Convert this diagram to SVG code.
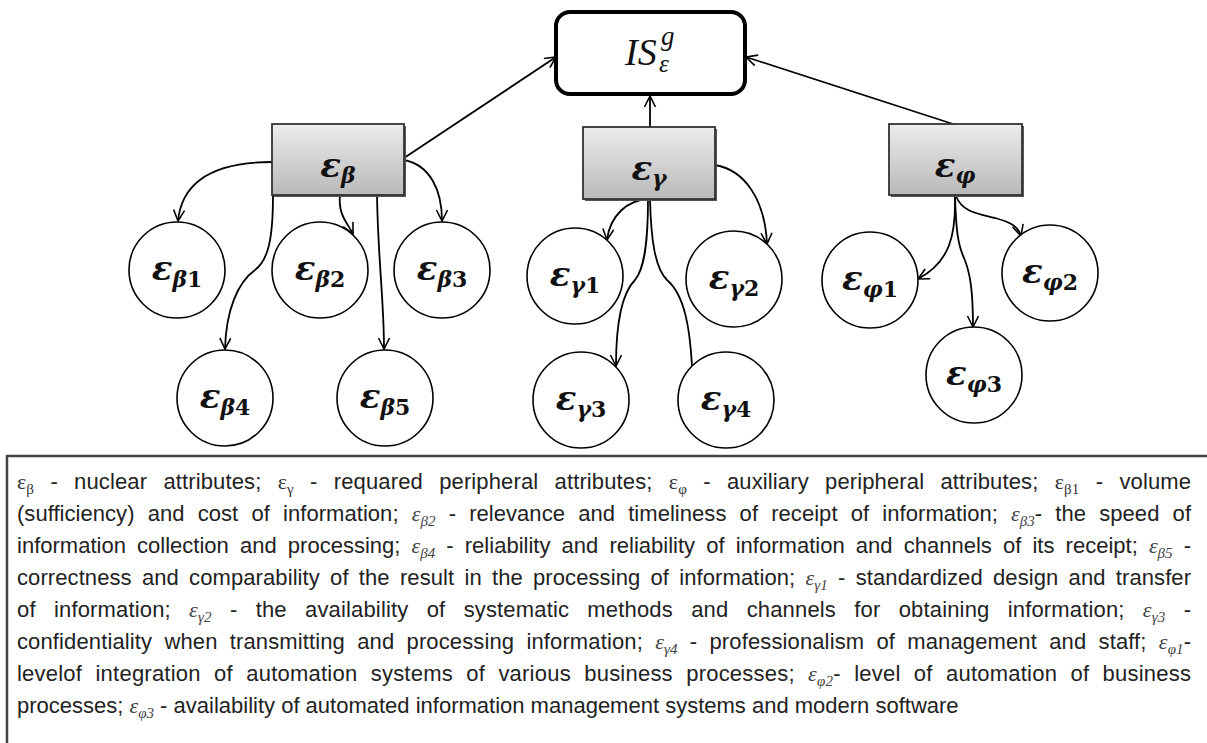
<svg xmlns="http://www.w3.org/2000/svg" width="1207" height="743" viewBox="0 0 1207 743">
<defs>
<linearGradient id="boxg" x1="0" y1="0" x2="0" y2="1">
<stop offset="0" stop-color="#ececec"/>
<stop offset="1" stop-color="#b9b9b9"/>
</linearGradient>
<marker id="arr" markerUnits="userSpaceOnUse" markerWidth="14" markerHeight="14" refX="12" refY="6" orient="auto">
<path d="M1,0.5 L12,6 L1,11.5" fill="none" stroke="#000" stroke-width="1.6"/>
</marker>
</defs>
<style>
.conn{fill:none;stroke:#000;stroke-width:1.8}
.circ{fill:#fff;stroke:#000;stroke-width:1.6}
.box{fill:url(#boxg);stroke:#333;stroke-width:1.8}
.shadow{fill:#555}
.lbl{font-family:"DejaVu Serif","Liberation Serif",serif;font-weight:bold;font-style:italic;font-size:34px;fill:#111}
.sub{font-size:22px}
.dg{font-style:normal}
.leg{font-family:"Liberation Sans",Arial,sans-serif;font-size:22px;fill:#222}
.ge{font-family:"Liberation Serif",serif;font-style:italic;fill:#444}
.ue{font-family:"Liberation Serif",serif;fill:#333}
.s{font-size:15px}
</style>
<rect x="7" y="456" width="1215" height="300" fill="#fff" stroke="#444" stroke-width="2.5"/>
<g id="connectors">
<path class="conn" marker-end="url(#arr)" d="M404,158 L556,57"/>
<path class="conn" marker-end="url(#arr)" d="M650,127 L650,96"/>
<path class="conn" marker-end="url(#arr)" d="M953,124 L746,57"/>
<path class="conn" marker-end="url(#arr)" d="M272,162 C215,162 182,180 178,221"/>
<path class="conn" marker-end="url(#arr)" d="M340,195 C338,215 347,222 353,234"/>
<path class="conn" marker-end="url(#arr)" d="M404,160 C430,165 442,190 442,221"/>
<path class="conn" marker-end="url(#arr)" d="M273,195 C273,240 268,260 255,270 C238,282 226,310 225,349"/>
<path class="conn" marker-end="url(#arr)" d="M377,195 C378,260 384,300 384,349"/>
<path class="conn" marker-end="url(#arr)" d="M648,199 C628,200 610,215 607,240"/>
<path class="conn" marker-end="url(#arr)" d="M715,165 C745,170 765,200 767,244"/>
<path class="conn" marker-end="url(#arr)" d="M648,199 C648,240 645,268 635,280 C620,295 616,330 616,366"/>
<path class="conn" d="M650,199 C651,240 655,268 667,280 C685,295 690,330 692,366"/>
<path class="conn" marker-end="url(#arr)" d="M955,196 C956,235 950,262 918,279"/>
<path class="conn" marker-end="url(#arr)" d="M956,196 C962,212 978,214 995,218 C1010,222 1018,226 1021,236"/>
<path class="conn" marker-end="url(#arr)" d="M955,196 C956,230 958,245 964,258 C970,272 973,290 973,327"/>
</g>
<g id="IS">
<rect x="556" y="12" width="189" height="82" rx="14" fill="#fff" stroke="#000" stroke-width="4"/>
<text font-family="'Liberation Serif',serif" font-style="italic" font-size="38" fill="#111"><tspan x="625" y="65">IS</tspan><tspan x="661" y="45" font-size="27">g</tspan><tspan x="659" y="72" font-size="25">ε</tspan></text>
</g>
<g id="e_beta">
<rect class="shadow" x="274" y="126" width="132" height="71"/>
<rect class="box" x="272" y="124" width="132" height="71"/>
<text class="lbl" x="338" y="177" text-anchor="middle">ε<tspan class="sub" dy="6">β</tspan></text>
</g>
<g id="e_gamma">
<rect class="shadow" x="585" y="129" width="132" height="72"/>
<rect class="box" x="583" y="127" width="132" height="72"/>
<text class="lbl" x="649" y="180" text-anchor="middle">ε<tspan class="sub" dy="6">γ</tspan></text>
</g>
<g id="e_phi">
<rect class="shadow" x="891" y="126" width="133" height="71"/>
<rect class="box" x="889" y="124" width="133" height="71"/>
<text class="lbl" x="955" y="177" text-anchor="middle">ε<tspan class="sub" dy="6">φ</tspan></text>
</g>
<g id="e_b1"><circle class="circ" cx="177" cy="270" r="48"/><text class="lbl" x="177" y="280" text-anchor="middle">ε<tspan class="sub" dy="7">β</tspan><tspan class="sub dg">1</tspan></text></g>
<g id="e_b2"><circle class="circ" cx="320" cy="270" r="48"/><text class="lbl" x="320" y="280" text-anchor="middle">ε<tspan class="sub" dy="7">β</tspan><tspan class="sub dg">2</tspan></text></g>
<g id="e_b3"><circle class="circ" cx="442" cy="270" r="48"/><text class="lbl" x="442" y="280" text-anchor="middle">ε<tspan class="sub" dy="7">β</tspan><tspan class="sub dg">3</tspan></text></g>
<g id="e_b4"><circle class="circ" cx="225" cy="398" r="48"/><text class="lbl" x="225" y="408" text-anchor="middle">ε<tspan class="sub" dy="7">β</tspan><tspan class="sub dg">4</tspan></text></g>
<g id="e_b5"><circle class="circ" cx="385" cy="398" r="48"/><text class="lbl" x="385" y="408" text-anchor="middle">ε<tspan class="sub" dy="7">β</tspan><tspan class="sub dg">5</tspan></text></g>
<g id="e_g1"><circle class="circ" cx="575" cy="276" r="48"/><text class="lbl" x="575" y="286" text-anchor="middle">ε<tspan class="sub" dy="7">γ</tspan><tspan class="sub dg">1</tspan></text></g>
<g id="e_g2"><circle class="circ" cx="734" cy="279" r="48"/><text class="lbl" x="734" y="289" text-anchor="middle">ε<tspan class="sub" dy="7">γ</tspan><tspan class="sub dg">2</tspan></text></g>
<g id="e_g3"><circle class="circ" cx="581" cy="400" r="48"/><text class="lbl" x="581" y="410" text-anchor="middle">ε<tspan class="sub" dy="7">γ</tspan><tspan class="sub dg">3</tspan></text></g>
<g id="e_g4"><circle class="circ" cx="726" cy="400" r="48"/><text class="lbl" x="726" y="410" text-anchor="middle">ε<tspan class="sub" dy="7">γ</tspan><tspan class="sub dg">4</tspan></text></g>
<g id="e_p1"><circle class="circ" cx="870" cy="280" r="48"/><text class="lbl" x="870" y="290" text-anchor="middle">ε<tspan class="sub" dy="7">φ</tspan><tspan class="sub dg">1</tspan></text></g>
<g id="e_p2"><circle class="circ" cx="1050" cy="273" r="48"/><text class="lbl" x="1050" y="283" text-anchor="middle">ε<tspan class="sub" dy="7">φ</tspan><tspan class="sub dg">2</tspan></text></g>
<g id="e_p3"><circle class="circ" cx="974" cy="375" r="48"/><text class="lbl" x="974" y="385" text-anchor="middle">ε<tspan class="sub" dy="7">φ</tspan><tspan class="sub dg">3</tspan></text></g>
<g id="legend">
<text class="leg" x="17" y="489" word-spacing="10" textLength="1174" lengthAdjust="spacing"><tspan class="ue">ε</tspan><tspan class="ue s" dy="5">β</tspan><tspan dy="-5"> - nuclear attributes; </tspan><tspan class="ue">ε</tspan><tspan class="ue s" dy="5">γ</tspan><tspan dy="-5"> - requared peripheral attributes; </tspan><tspan class="ue">ε</tspan><tspan class="ue s" dy="5">φ</tspan><tspan dy="-5"> - auxiliary peripheral attributes; </tspan><tspan class="ue">ε</tspan><tspan class="ue s" dy="5">β1</tspan><tspan dy="-5"> - volume</tspan></text>
<text class="leg" x="17" y="521" word-spacing="7" textLength="1174" lengthAdjust="spacing">(sufficiency) and cost of information; <tspan class="ge">ε</tspan><tspan class="ge s" dy="5">β2</tspan><tspan dy="-5"> - relevance and timeliness of receipt of information; </tspan><tspan class="ge">ε</tspan><tspan class="ge s" dy="5">β3</tspan><tspan dy="-5">- the speed of</tspan></text>
<text class="leg" x="17" y="553" word-spacing="5" textLength="1174" lengthAdjust="spacing">information collection and processing; <tspan class="ge">ε</tspan><tspan class="ge s" dy="5">β4</tspan><tspan dy="-5"> - reliability and reliability of information and channels of its receipt; </tspan><tspan class="ge">ε</tspan><tspan class="ge s" dy="5">β5</tspan><tspan dy="-5"> -</tspan></text>
<text class="leg" x="17" y="585" word-spacing="4" textLength="1174" lengthAdjust="spacing">correctness and comparability of the result in the processing of information; <tspan class="ge">ε</tspan><tspan class="ge s" dy="5">γ1</tspan><tspan dy="-5"> - standardized design and transfer</tspan></text>
<text class="leg" x="17" y="617" word-spacing="12" textLength="1174" lengthAdjust="spacing">of information; <tspan class="ge">ε</tspan><tspan class="ge s" dy="5">γ2</tspan><tspan dy="-5"> - the availability of systematic methods and channels for obtaining information; </tspan><tspan class="ge">ε</tspan><tspan class="ge s" dy="5">γ3</tspan><tspan dy="-5"> -</tspan></text>
<text class="leg" x="17" y="649" word-spacing="6" textLength="1174" lengthAdjust="spacing">confidentiality when transmitting and processing information; <tspan class="ge">ε</tspan><tspan class="ge s" dy="5">γ4</tspan><tspan dy="-5"> - professionalism of management and staff; </tspan><tspan class="ge">ε</tspan><tspan class="ge s" dy="5">φ1</tspan><tspan dy="-5">-</tspan></text>
<text class="leg" x="17" y="681" word-spacing="7" textLength="1174" lengthAdjust="spacing">levelof integration of automation systems of various business processes; <tspan class="ge">ε</tspan><tspan class="ge s" dy="5">φ2</tspan><tspan dy="-5">- level of automation of business</tspan></text>
<text class="leg" x="17" y="713">processes; <tspan class="ge">ε</tspan><tspan class="ge s" dy="5">φ3</tspan><tspan dy="-5"> - availability of automated information management systems and modern software</tspan></text>
</g>
</svg>
